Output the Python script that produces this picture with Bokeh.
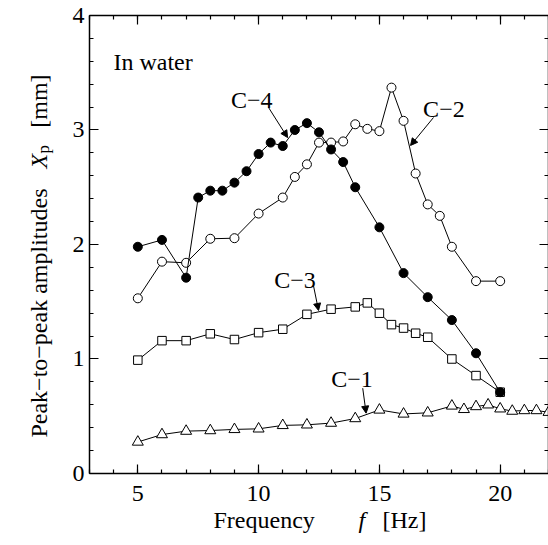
import math
from bokeh.plotting import figure
from bokeh.models import (Label, Arrow, NormalHead, LinearAxis,
                          SingleIntervalTicker, Range1d, CustomLabelingPolicy)
from bokeh.embed import file_html
from bokeh.resources import INLINE

# ---------------- data ----------------
f_c4 = [5, 6, 7, 7.5, 8, 8.5, 9, 9.5, 10, 10.5, 11, 11.5, 12, 12.5, 13, 13.5, 14, 15, 16, 17, 18, 19, 20]
x_c4 = [1.98, 2.04, 1.71, 2.41, 2.47, 2.47, 2.54, 2.64, 2.79, 2.89, 2.86, 3.00, 3.06, 2.98, 2.83, 2.72, 2.50, 2.15, 1.75, 1.54, 1.34, 1.05, 0.71]

f_c2 = [5, 6, 7, 8, 9, 10, 11, 11.5, 12, 12.5, 13, 13.5, 14, 14.5, 15, 15.5, 16, 16.5, 17, 17.5, 18, 19, 20]
x_c2 = [1.53, 1.85, 1.84, 2.05, 2.055, 2.27, 2.41, 2.59, 2.70, 2.89, 2.89, 2.90, 3.05, 3.01, 2.99, 3.37, 3.08, 2.62, 2.35, 2.25, 1.98, 1.68, 1.68]

f_c3 = [5, 6, 7, 8, 9, 10, 11, 12, 13, 14, 14.5, 15, 15.5, 16, 16.5, 17, 18, 19, 20]
x_c3 = [0.99, 1.16, 1.16, 1.22, 1.17, 1.23, 1.26, 1.39, 1.435, 1.455, 1.49, 1.40, 1.30, 1.27, 1.225, 1.19, 1.00, 0.855, 0.71]

f_c1 = [5, 6, 7, 8, 9, 10, 11, 12, 13, 14, 15, 16, 17, 18, 18.5, 19, 19.5, 20, 20.5, 21, 21.5, 22]
x_c1 = [0.275, 0.34, 0.37, 0.375, 0.385, 0.39, 0.42, 0.425, 0.44, 0.48, 0.555, 0.52, 0.53, 0.59, 0.56, 0.585, 0.60, 0.565, 0.545, 0.55, 0.55, 0.535]

x_bounds = (3, 22)
y_bounds = (0, 4)
x_ticks_interval = 5
y_ticks_interval = 1

FONT = "Liberation Serif"
FS = "24px"

# The frame fills the whole canvas so that the axis titles (drawn as labels)
# are not clipped; the axes are pinned at the data-box edges.
p = figure(width=548, height=545,
           x_range=Range1d(-0.684, 22.0), y_range=Range1d(-0.629, 4.131),
           output_backend="svg", toolbar_location=None,
           min_border=0)
p.background_fill_color = "white"
p.border_fill_color = "white"
p.outline_line_color = None
p.xgrid.grid_line_color = None
p.ygrid.grid_line_color = None

xt = SingleIntervalTicker(interval=x_ticks_interval, num_minor_ticks=5)
yt = SingleIntervalTicker(interval=y_ticks_interval, num_minor_ticks=5)


def style(ax, labels=True):
    ax.axis_line_color = "black"
    ax.axis_line_width = 1.5
    ax.major_tick_line_color = "black"
    ax.minor_tick_line_color = "black"
    ax.major_tick_line_width = 1.2
    ax.minor_tick_line_width = 1.2
    ax.major_tick_in = 9
    ax.major_tick_out = 0
    ax.minor_tick_in = 4
    ax.minor_tick_out = 0
    ax.major_label_text_font = FONT
    ax.major_label_text_font_size = FS
    ax.major_label_text_color = "black"
    if not labels:
        # mirror axis: ticks only, no labels drawn
        ax.major_label_policy = CustomLabelingPolicy(code="return new Set()")


bx = p.xaxis[0]
ly = p.yaxis[0]
bx.ticker = xt
ly.ticker = yt
style(bx)
style(ly)
bx.major_label_standoff = 13
ly.major_label_standoff = 5
bx.bounds = x_bounds
ly.bounds = y_bounds
bx.fixed_location = y_bounds[0]
ly.fixed_location = x_bounds[0]

top = LinearAxis(ticker=xt, bounds=x_bounds, fixed_location=y_bounds[1])
right = LinearAxis(ticker=yt, bounds=y_bounds, fixed_location=x_bounds[1])
style(top, labels=False)
style(right, labels=False)
p.add_layout(top, "above")
p.add_layout(right, "right")

# ---------------- series ----------------
p.line(f_c1, x_c1, line_color="black", line_width=1)
p.scatter(f_c1, x_c1, marker="triangle", size=11, fill_color="white", line_color="black", line_width=1)

p.line(f_c3, x_c3, line_color="black", line_width=1)
p.scatter(f_c3, x_c3, marker="square", size=8.5, fill_color="white", line_color="black", line_width=1)

p.line(f_c2, x_c2, line_color="black", line_width=1)
p.scatter(f_c2, x_c2, marker="circle", size=9, fill_color="white", line_color="black", line_width=1)

p.line(f_c4, x_c4, line_color="black", line_width=1)
p.scatter(f_c4, x_c4, marker="circle", size=9, fill_color="black", line_color="black", line_width=1)

# ---------------- annotations ----------------
def lab(x, y, text, style="normal", size=FS, align="left", angle=0.0):
    p.add_layout(Label(x=x, y=y, text=text, text_font=FONT, text_font_size=size,
                       text_font_style=style, text_color="black",
                       text_align=align, text_baseline="alphabetic", angle=angle))

lab(3.99, 3.59, "In water")
lab(9.72, 3.258, "C\u22124", align="center")
lab(17.67, 3.185, "C\u22122", align="center")
lab(11.51, 1.686, "C\u22123", align="center")
lab(13.87, 0.827, "C\u22121", align="center")

for (xs, ys, xe, ye) in [(10.41, 3.197, 11.20, 2.934),
                         (17.24, 3.109, 16.29, 2.865),
                         (12.27, 1.642, 12.48, 1.424),
                         (14.31, 0.745, 14.45, 0.527)]:
    p.add_layout(Arrow(x_start=xs, y_start=ys, x_end=xe, y_end=ye,
                       line_color="black", line_width=1,
                       end=NormalHead(size=7, fill_color="black", line_color="black")))

# x axis title
lab(8.133, -0.41, "Frequency")
lab(14.135, -0.41, "f", style="italic")
lab(15.13, -0.41, "[Hz]")

# y axis title (rotated)
A = math.pi / 2
lab(0.889, 0.314, "Peak\u2212to\u2212peak amplitudes", angle=A)
lab(0.889, 2.664, "X", style="italic", angle=A)
lab(1.10, 2.795, "p", size="17px", angle=A)
lab(0.889, 3.02, "[mm]", angle=A)

open("out.html", "w").write(file_html(p, INLINE))
